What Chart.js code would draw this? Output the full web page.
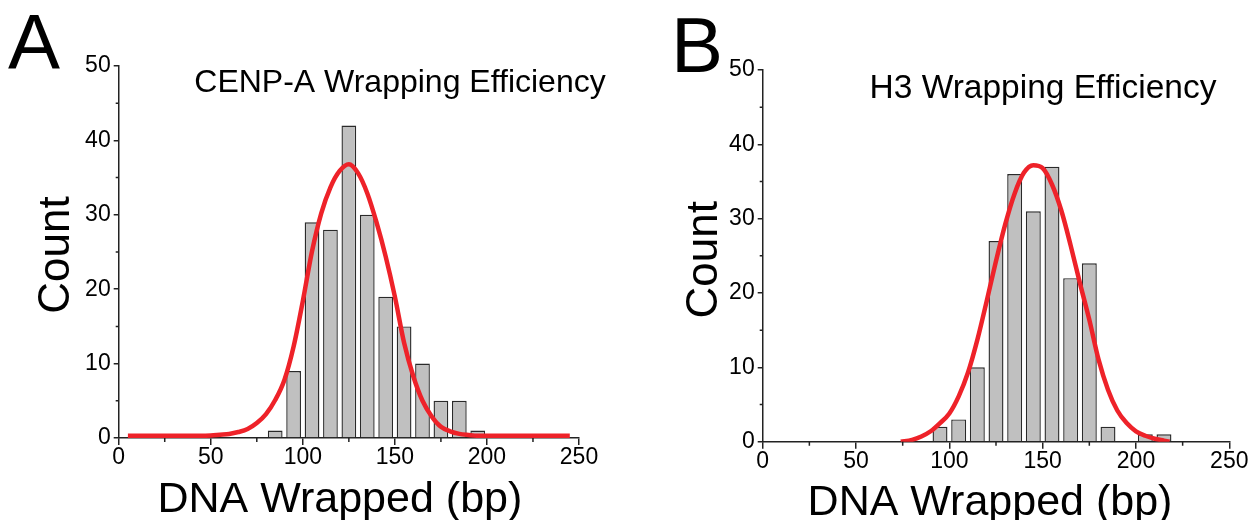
<!DOCTYPE html>
<html>
<head>
<meta charset="utf-8">
<script src="https://cdn.jsdelivr.net/npm/chart.js@4.4.1/dist/chart.umd.min.js"></script>
<style>
  html, body { margin: 0; padding: 0; background: #fff; }
  #wrap { position: relative; width: 1254px; height: 520px; }
  .panel { position: absolute; top: 0; width: 627px; height: 520px; }
</style>
</head>
<body>
<div id="wrap">
  <div class="panel" style="left:0"><canvas id="chartA"></canvas></div>
  <div class="panel" style="left:627px"><canvas id="chartB"></canvas></div>
</div>
<script>
// axis ticks
const xTickValues = [0, 50, 100, 150, 200, 250];
const yTickValues = [0, 10, 20, 30, 40, 50];
const xMinorTicks = [25, 75, 125, 175, 225];
const yMinorTicks = [5, 15, 25, 35, 45];

// panel A - CENP-A histogram (bin centres, 10 bp bins)
const binsA = [85, 95, 105, 115, 125, 135, 145, 155, 165, 175, 185, 195];
const countsA = [1, 9, 29, 28, 42, 30, 19, 15, 10, 5, 5, 1];
// gaussian fit
const fitXA = [5, 10, 15, 20, 25, 30, 35, 40, 45, 50, 55, 60, 65, 70, 75, 80, 85, 90, 95, 100,
  105, 110, 115, 120, 125, 130, 135, 140, 145, 150, 155, 160, 165, 170, 175, 180, 185, 190, 195, 200,
  205, 210, 215, 220, 225, 230, 235, 240, 245];
const fitYA = [0.3, 0.3, 0.3, 0.3, 0.3, 0.3, 0.3, 0.3, 0.3, 0.35, 0.45, 0.55, 0.8, 1.2, 2.0, 3.2, 5.1, 7.8, 12.3, 18.4,
  25.1, 30.2, 33.7, 35.9, 36.8, 35.6, 32.9, 29.0, 24.4, 19.0, 12.8, 8.3, 5.0, 2.9, 1.5, 0.9, 0.55, 0.4, 0.3, 0.3,
  0.3, 0.3, 0.3, 0.3, 0.3, 0.3, 0.3, 0.3, 0.3];

// panel B - H3 histogram
const binsB = [95, 105, 115, 125, 135, 145, 155, 165, 175, 185, 205, 215];
const countsB = [2, 3, 10, 27, 36, 31, 37, 22, 24, 2, 1, 1];
const fitXB = [74, 80, 85, 90, 95, 100, 105, 110, 115, 120, 125, 130, 135, 140, 145, 150, 155, 160,
  165, 170, 175, 180, 185, 190, 195, 200, 205, 210, 215, 218];
const fitYB = [0, 0.25, 0.7, 1.4, 2.5, 3.8, 6.1, 9.3, 13.7, 18.9, 24.3, 29.3, 33.4, 36.2, 37.2, 36.8, 34.6, 31.1,
  26.4, 21.3, 16.4, 11.0, 7.0, 4.2, 2.5, 1.4, 0.8, 0.4, 0.15, 0];

const FONT = "'Liberation Sans', Arial, sans-serif";

// letters, titles and axis titles
const panelText = {
  id: 'panelText',
  afterDraw(chart, args, opts) {
    const ctx = chart.ctx;
    const area = chart.chartArea;
    ctx.save();
    ctx.fillStyle = '#000';
    ctx.textAlign = 'left';
    ctx.textBaseline = 'alphabetic';
    ctx.font = '78px ' + FONT;
    ctx.fillText(opts.letter, opts.letterX, opts.letterY);

    ctx.textAlign = 'center';
    ctx.font = opts.titleSize + 'px ' + FONT;
    ctx.fillText(opts.title, opts.titleX, opts.titleY);

    ctx.font = '43px ' + FONT;
    ctx.fillText('DNA Wrapped (bp)', (area.left + area.right) / 2 + opts.xTitleShift, opts.xTitleY);

    ctx.font = '44px ' + FONT;
    ctx.translate(opts.yTitleX, (area.top + area.bottom) / 2 + opts.yTitleShift);
    ctx.rotate(-Math.PI / 2);
    ctx.textBaseline = 'middle';
    ctx.fillText('Count', 0, 0);
    ctx.restore();
  }
};

// short minor ticks
const minorTicks = {
  id: 'minorTicks',
  afterDraw(chart) {
    const ctx = chart.ctx;
    const x = chart.scales.x, y = chart.scales.y;
    const area = chart.chartArea;
    ctx.save();
    ctx.strokeStyle = '#222';
    ctx.lineWidth = 1.5;
    ctx.beginPath();
    xMinorTicks.forEach(v => {
      const px = x.getPixelForValue(v);
      ctx.moveTo(px, area.bottom);
      ctx.lineTo(px, area.bottom + 4);
    });
    yMinorTicks.forEach(v => {
      const py = y.getPixelForValue(v);
      ctx.moveTo(area.left, py);
      ctx.lineTo(area.left - 3, py);
    });
    ctx.stroke();
    ctx.restore();
  }
};

function makeChart(id, bins, counts, fitX, fitY, cfg) {
  const ctx = document.getElementById(id).getContext('2d');
  return new Chart(ctx, {
    data: {
      datasets: [
        {
          type: 'line',
          data: fitX.map((x, i) => ({ x: x, y: fitY[i] })),
          borderColor: '#ee2229',
          borderWidth: 4.5,
          pointRadius: 0,
          cubicInterpolationMode: 'monotone',
          order: 0
        },
        {
          type: 'bar',
          data: bins.map((x, i) => ({ x: x, y: counts[i] })),
          backgroundColor: '#c0c0c0',
          borderColor: '#2a2a2a',
          borderWidth: 1.4,
          borderSkipped: 'bottom',
          barPercentage: 0.8,
          categoryPercentage: 1,
          order: 1
        }
      ]
    },
    options: {
      responsive: true,
      maintainAspectRatio: false,
      animation: false,
      layout: {
        padding: { left: 0, top: cfg.top, right: cfg.right, bottom: 0 }
      },
      scales: {
        x: {
          type: 'linear',
          min: 0,
          max: 250,
          offset: false,
          afterBuildTicks: s => { s.ticks = xTickValues.map(v => ({ value: v })); },
          afterFit: s => { s.height = cfg.xHeight; },
          grid: { display: true, offset: false, drawOnChartArea: false, drawTicks: true, tickLength: 7, color: '#222', lineWidth: 1.5 },
          border: { display: true, color: '#222', width: 1.5 },
          ticks: { color: '#000', padding: -1, maxRotation: 0, font: { size: 23, family: FONT } }
        },
        y: {
          type: 'linear',
          min: 0,
          max: 50,
          afterBuildTicks: s => { s.ticks = yTickValues.map(v => ({ value: v })); },
          afterFit: s => { s.width = cfg.yWidth; },
          grid: { display: true, drawOnChartArea: false, drawTicks: true, tickLength: 5, color: '#222', lineWidth: 1.5 },
          border: { display: true, color: '#222', width: 1.5 },
          ticks: { color: '#000', padding: 3, font: { size: 23, family: FONT } }
        }
      },
      plugins: {
        legend: { display: false },
        tooltip: { enabled: false },
        panelText: cfg.text
      }
    },
    plugins: [minorTicks, panelText]
  });
}

makeChart('chartA', binsA, countsA, fitXA, fitYA, {
  top: 66, right: 48, xHeight: 82, yWidth: 118.7,
  text: {
    letter: 'A', letterX: 8, letterY: 69,
    title: 'CENP-A Wrapping Efficiency', titleSize: 32, titleX: 400, titleY: 92,
    xTitleShift: -9, xTitleY: 512,
    yTitleX: 57, yTitleShift: 3
  }
});

makeChart('chartB', binsB, countsB, fitXB, fitYB, {
  top: 70, right: 24.7, xHeight: 78.3, yWidth: 135.7,
  text: {
    letter: 'B', letterX: 44, letterY: 72,
    title: 'H3 Wrapping Efficiency', titleSize: 33.5, titleX: 416, titleY: 98,
    xTitleShift: -6, xTitleY: 515,
    yTitleX: 78, yTitleShift: 4
  }
});
</script>
</body>
</html>
